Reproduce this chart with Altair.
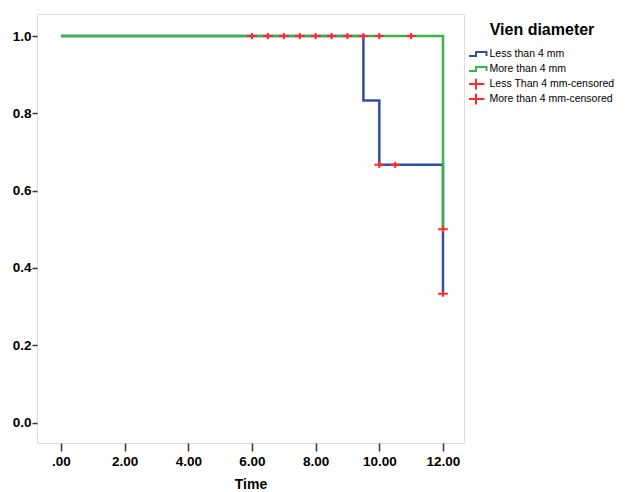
import altair as alt
import pandas as pd

groups = ["Less than 4 mm", "More than 4 mm", "Less Than 4 mm-censored", "More than 4 mm-censored"]
colors = ["#2f4fa8", "#3cb44b", "#ff2a2a", "#ff2a2a"]

less_t = [0, 9.5, 10, 12]
less_s = [1.0, 0.8333, 0.6667, 0.3333]
more_t = [0, 12]
more_s = [1.0, 0.5]

less_cens_t = [10, 10.5, 12]
less_cens_s = [0.6667, 0.6667, 0.3333]
more_cens_t = [6, 6.5, 7, 7.5, 8, 8.5, 9, 9.5, 10, 11, 12]
more_cens_s = [1.0, 1.0, 1.0, 1.0, 1.0, 1.0, 1.0, 1.0, 1.0, 1.0, 0.5]

lines = pd.DataFrame(
    [{"t": t, "s": s, "group": groups[0]} for t, s in zip(less_t, less_s)]
    + [{"t": t, "s": s, "group": groups[1]} for t, s in zip(more_t, more_s)]
)
cens = pd.DataFrame(
    [{"t": t, "s": s, "group": groups[2]} for t, s in zip(less_cens_t, less_cens_s)]
    + [{"t": t, "s": s, "group": groups[3]} for t, s in zip(more_cens_t, more_cens_s)]
)

step_path = "M-1.75,0.33L0,0.33L0,-0.33L1.75,-0.33L1.75,0.33"
cross_path = "M-1.4,0L1.4,0M0,-0.9L0,0.9"

legend = alt.Legend(
    title="Vien diameter", orient="none", legendX=432, legendY=8,
    titleFont="Liberation Sans", titleFontSize=16, titleFontWeight="bold",
    titleColor="#000", titlePadding=9, titleAnchor="middle",
    labelFont="Liberation Sans", labelFontSize=10.5, labelColor="#000",
    symbolSize=144, symbolStrokeWidth=2, rowPadding=0, labelOffset=6.5,
    clipHeight=14.2, gridAlign="all",
)
color = alt.Color("group:N", scale=alt.Scale(domain=groups, range=colors), legend=legend)
shape = alt.Shape("group:N", scale=alt.Scale(domain=groups, range=[step_path, step_path, cross_path, cross_path]), legend=legend)

xenc = alt.X("t:Q", title="Time",
             scale=alt.Scale(domain=[-0.754, 12.66], nice=False, zero=False),
             axis=alt.Axis(values=[0, 2, 4, 6, 8, 10, 12],
                           labelExpr="datum.value == 0 ? '.00' : format(datum.value, '.2f')",
                           grid=False, domain=False, tickSize=8, tickColor="#333", tickWidth=1.5,
                           labelFont="Liberation Sans", labelFontSize=13.5, labelFontWeight="bold",
                           labelColor="#000", labelPadding=3,
                           titleFont="Liberation Sans", titleFontSize=14, titleFontWeight="bold",
                           titleColor="#000", titlePadding=10))
yenc = alt.Y("s:Q", title=None,
             scale=alt.Scale(domain=[-0.053, 1.057], nice=False, zero=False),
             axis=alt.Axis(values=[0, 0.2, 0.4, 0.6, 0.8, 1.0], format=".1f",
                           grid=False, domain=False, tickSize=5, tickColor="#333", tickWidth=1.5,
                           labelFont="Liberation Sans", labelFontSize=13.5, labelFontWeight="bold",
                           labelColor="#000", labelPadding=1))

blue = alt.Chart(lines[lines.group == groups[0]]).mark_line(interpolate="step-after", strokeWidth=2.5).encode(
    x=xenc, y=yenc, color=color
)
green = alt.Chart(lines[lines.group == groups[1]]).mark_line(interpolate="step-after", strokeWidth=2.5).encode(
    x=xenc, y=yenc, color=color
)
pts = alt.Chart(cens).mark_point(filled=False, strokeWidth=2, size=48, opacity=1).encode(
    x=xenc, y=yenc, color=color, shape=shape
)

chart = alt.layer(blue, green, pts).properties(
    width=427, height=429,
    autosize=alt.AutoSizeParams(type="none"),
    padding={"left": 29, "top": 6, "right": 155, "bottom": 48},
).configure_view(stroke="#444", strokeWidth=1.5).configure(background="white")

chart.save("out.html", embed_options={"renderer": "svg", "actions": False})
